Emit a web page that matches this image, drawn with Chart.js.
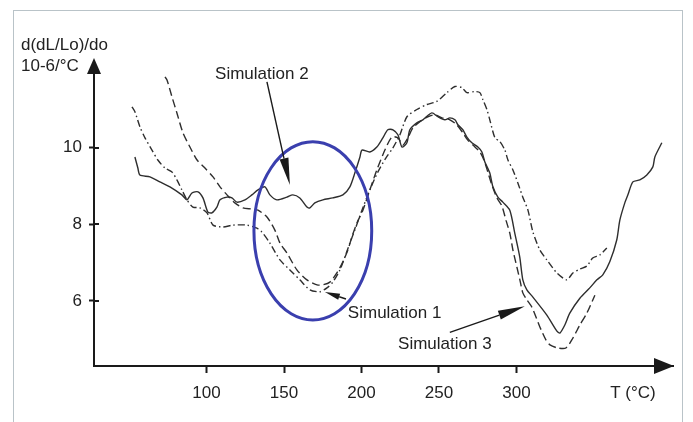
<!DOCTYPE html>
<html>
<head>
<meta charset="utf-8">
<script src="https://cdn.jsdelivr.net/npm/chart.js@4.4.1/dist/chart.umd.min.js"></script>
<style>
  html, body { margin: 0; padding: 0; background: #ffffff; }
  #wrap { position: relative; width: 693px; height: 422px; overflow: hidden; background: #fff; }
  #frame { position: absolute; left: 13px; top: 10px; width: 670px; height: 440px; border: 1px solid #b9c3c8; box-sizing: border-box; }
  #c { position: absolute; left: 0; top: 0; }
</style>
</head>
<body>
<div id="wrap">
  <div id="frame"></div>
  <canvas id="c" width="693" height="422"></canvas>
</div>
<script>
// ---- Data (T in °C, values in 10^-6/°C) ----
const xTicks = [100, 150, 200, 250, 300];
const yTicks = [6, 8, 10];
const yTitle = ["d(dL/Lo)/do", "10-6/°C"];
const xTitle = "T (°C)";
const annotationLabels = ["Simulation 1", "Simulation 2", "Simulation 3"];

// solid curve
const solidT = [53.8,55.7,57.0,63.5,69.9,76.4,84.1,87.4,90.6,94.5,97.7,100.9,103.5,106.7,108.7,113.2,116.4,119.6,124.8,129.3,133.2,137.7,140.9,145.4,151.9,155.7,160.2,164.8,166.7,169.9,175.1,181.5,188.0,192.5,195.7,199.0,200.3,205.4,209.9,213.8,217.0,220.3,223.5,226.1,229.3,231.2,235.7,239.6,245.4,249.3,253.8,257.0,260.3,262.2,265.4,268.0,271.2,275.1,277.7,279.6,282.8,284.8,288.0,291.2,295.7,298.9,302.1,304.1,306.7,310.6,319.6,326.1,328.0,331.2,334.4,340.9,347.3,351.9,355.7,360.2,364.7,366.7,369.9,371.9,375.1,379.6,384.1,388.0,389.3,393.8];
const solidV = [9.76,9.47,9.29,9.24,9.11,8.98,8.77,8.64,8.82,8.85,8.69,8.32,8.30,8.45,8.64,8.71,8.69,8.58,8.64,8.77,8.90,8.98,8.77,8.64,8.71,8.77,8.69,8.45,8.43,8.56,8.64,8.69,8.77,8.98,9.34,9.76,9.94,9.89,10.02,10.26,10.47,10.47,10.34,10.02,10.13,10.47,10.65,10.73,10.91,10.81,10.73,10.78,10.73,10.60,10.47,10.28,10.13,10.02,9.89,9.63,9.34,8.98,8.71,8.58,8.37,7.77,7.15,6.55,6.29,6.10,5.63,5.21,5.16,5.37,5.68,6.07,6.34,6.55,6.68,7.02,7.59,8.11,8.56,8.77,9.11,9.16,9.29,9.50,9.76,10.13];

// dashed curve
const dashedT = [73.2,74.5,77.7,80.9,84.8,89.3,93.9,99.0,104.2,108.7,113.2,118.3,123.5,129.3,133.2,139.0,144.1,147.4,151.9,158.3,164.8,171.3,175.1,179.6,184.1,188.0,191.2,193.8,197.0,200.9,205.4,209.9,215.1,219.6,223.5,226.7,229.9,233.2,237.7,242.8,247.4,251.9,257.0,261.5,265.4,268.6,273.2,276.4,279.0,281.5,284.1,287.4,290.6,293.2,295.7,297.7,300.3,302.2,304.1,306.7,309.9,315.1,319.0,321.6,326.7,331.9,336.4,340.9,345.4,350.6];
const dashedV = [11.85,11.77,11.33,10.91,10.39,10.02,9.68,9.47,9.24,8.98,8.77,8.56,8.43,8.40,8.37,8.19,7.85,7.51,7.25,6.81,6.55,6.42,6.42,6.49,6.73,7.02,7.33,7.67,8.03,8.37,8.90,9.42,9.94,10.28,10.26,10.07,10.26,10.52,10.68,10.81,10.86,10.78,10.73,10.60,10.39,10.20,10.02,9.89,9.68,9.37,9.03,8.69,8.48,8.11,7.77,7.33,6.88,6.55,6.21,6.03,5.84,5.32,4.98,4.85,4.77,4.77,5.03,5.37,5.68,6.15];

// dash-dot curve
const dashDotT = [51.9,53.8,57.0,60.3,64.8,68.6,73.2,77.7,80.9,84.1,87.4,91.2,95.7,100.3,104.2,110.6,117.1,126.1,132.5,135.7,140.9,147.4,153.8,160.2,166.7,173.1,177.7,181.5,186.1,189.3,192.5,195.7,200.3,205.4,210.6,215.7,220.3,224.8,229.3,235.7,242.2,248.6,255.1,260.3,264.8,268.0,273.2,276.4,278.3,280.9,282.8,286.1,289.3,292.5,294.5,297.7,300.9,304.1,307.4,310.6,315.1,319.6,326.1,332.5,336.4,340.9,345.4,349.2,353.8,358.3];
const dashDotV = [11.07,10.94,10.55,10.26,9.94,9.68,9.47,9.37,9.16,8.90,8.64,8.45,8.43,8.30,7.98,7.93,7.98,7.98,7.90,7.80,7.51,7.07,6.81,6.55,6.29,6.24,6.34,6.49,6.81,7.15,7.51,7.85,8.37,8.90,9.37,9.73,10.00,10.34,10.81,11.00,11.13,11.21,11.44,11.60,11.57,11.44,11.47,11.44,11.26,11.00,10.73,10.26,10.16,9.94,9.68,9.42,9.08,8.71,8.37,7.80,7.33,7.07,6.73,6.55,6.73,6.83,6.91,7.12,7.20,7.38];

// highlight ellipse (data units): centre T, centre value, half-width in °C, half-height in value units
const ellipseSpec = { t: 168.6, v: 7.83, rt: 38.0, rv: 2.33 };

// annotation texts & arrows (data units)
const notes = [
  { text: "Simulation 2", t: 135.7, v: 11.93, align: "center", from: [139.0, 11.72], to: [153.8, 9.03], head: 27, hw: 4.5 },
  { text: "Simulation 1", t: 191.2, v: 5.68, align: "left",   from: [190.0, 6.05], to: [176.4, 6.23], head: 15, hw: 3.2 },
  { text: "Simulation 3", t: 253.8, v: 4.87, align: "center", from: [257.0, 5.18], to: [305.4, 5.86], head: 27, hw: 4.5 }
];

const toXY = (ts, vs) => ts.map((t, i) => ({ x: t, y: vs[i] }));
const INK = '#222222';
const FONT = '17px "Liberation Sans", Arial, Helvetica, sans-serif';

function arrow(ctx, x1, y1, x2, y2, head, hw) {
  const ang = Math.atan2(y2 - y1, x2 - x1);
  const bx = x2 - head * Math.cos(ang), by = y2 - head * Math.sin(ang);
  ctx.beginPath(); ctx.moveTo(x1, y1); ctx.lineTo(bx, by); ctx.stroke();
  const px = -Math.sin(ang) * hw, py = Math.cos(ang) * hw;
  ctx.beginPath(); ctx.moveTo(x2, y2); ctx.lineTo(bx + px, by + py); ctx.lineTo(bx - px, by - py); ctx.closePath(); ctx.fill();
}

const overlay = {
  id: 'overlay',
  afterDraw(chart) {
    const { ctx, chartArea: a, scales: { x, y } } = chart;
    ctx.save();
    ctx.fillStyle = '#1a1a1a'; ctx.strokeStyle = '#1a1a1a';
    // axis arrow heads
    ctx.beginPath(); ctx.moveTo(a.left, a.top - 4); ctx.lineTo(a.left - 7, a.top + 12); ctx.lineTo(a.left + 7, a.top + 12); ctx.closePath(); ctx.fill();
    ctx.beginPath(); ctx.moveTo(a.right + 1, a.bottom); ctx.lineTo(a.right - 19, a.bottom - 8); ctx.lineTo(a.right - 19, a.bottom + 8); ctx.closePath(); ctx.fill();
    // inner part of y ticks (ticks cross the axis)
    ctx.lineWidth = 2;
    yTicks.forEach(v => { const py = Math.round(y.getPixelForValue(v)); ctx.beginPath(); ctx.moveTo(a.left, py); ctx.lineTo(a.left + 5, py); ctx.stroke(); });
    // titles
    ctx.fillStyle = INK; ctx.font = FONT; ctx.textBaseline = 'middle';
    ctx.textAlign = 'left';
    ctx.fillText(yTitle[0], 21, 45);
    ctx.fillText(yTitle[1], 21, 66);
    ctx.textAlign = 'center';
    ctx.fillText(xTitle, 633, 393);
    // ellipse
    const cx = x.getPixelForValue(ellipseSpec.t), cy = y.getPixelForValue(ellipseSpec.v);
    const rx = x.getPixelForValue(ellipseSpec.t + ellipseSpec.rt) - cx;
    const ry = cy - y.getPixelForValue(ellipseSpec.v + ellipseSpec.rv);
    ctx.strokeStyle = '#3a3fae'; ctx.lineWidth = 3;
    ctx.beginPath(); ctx.ellipse(cx, cy, rx, ry, 0, 0, Math.PI * 2); ctx.stroke();
    // annotations
    ctx.strokeStyle = '#1a1a1a'; ctx.fillStyle = '#1a1a1a'; ctx.lineWidth = 1.4;
    notes.forEach(n => {
      arrow(ctx, x.getPixelForValue(n.from[0]), y.getPixelForValue(n.from[1]),
                 x.getPixelForValue(n.to[0]), y.getPixelForValue(n.to[1]), n.head, n.hw);
    });
    ctx.fillStyle = INK; ctx.font = FONT;
    notes.forEach(n => {
      ctx.textAlign = n.align;
      ctx.fillText(n.text, x.getPixelForValue(n.t), y.getPixelForValue(n.v));
    });
    ctx.restore();
  }
};

const lineDs = (label, data, dash) => ({
  label, data, borderColor: '#2e2e2e', borderWidth: 1.4, borderDash: dash,
  pointRadius: 0, tension: 0.25, fill: false
});

new Chart(document.getElementById('c'), {
  type: 'line',
  data: {
    datasets: [
      lineDs('solid', toXY(solidT, solidV), []),
      lineDs('dashed', toXY(dashedT, dashedV), [8, 4]),
      lineDs('dash-dot', toXY(dashDotT, dashDotV), [7, 3, 1.5, 3])
    ]
  },
  options: {
    responsive: false,
    devicePixelRatio: 1,
    animation: false,
    layout: { padding: { top: 62, right: 20, left: 0, bottom: 0 } },
    plugins: { legend: { display: false }, tooltip: { enabled: false } },
    scales: {
      x: {
        type: 'linear', min: 27.4, max: 401,
        afterBuildTicks: s => { s.ticks = xTicks.map(v => ({ value: v })); },
        afterFit: s => { s.height = 56; },
        grid: { display: true, drawOnChartArea: false, drawTicks: true, tickLength: 7, tickWidth: 2, tickColor: '#1a1a1a' },
        border: { display: true, color: '#1a1a1a', width: 2 },
        ticks: { color: INK, font: { family: '"Liberation Sans", Arial, sans-serif', size: 17 }, padding: 10, maxRotation: 0, autoSkip: false }
      },
      y: {
        type: 'linear', min: 4.30, max: 12.24,
        afterBuildTicks: s => { s.ticks = yTicks.map(v => ({ value: v })); },
        afterFit: s => { s.width = 94; },
        grid: { display: true, drawOnChartArea: false, drawTicks: true, tickLength: 5, tickWidth: 2, tickColor: '#1a1a1a' },
        border: { display: true, color: '#1a1a1a', width: 2 },
        ticks: { color: INK, font: { family: '"Liberation Sans", Arial, sans-serif', size: 17 }, padding: 7 }
      }
    }
  },
  plugins: [overlay]
});
</script>
</body>
</html>
